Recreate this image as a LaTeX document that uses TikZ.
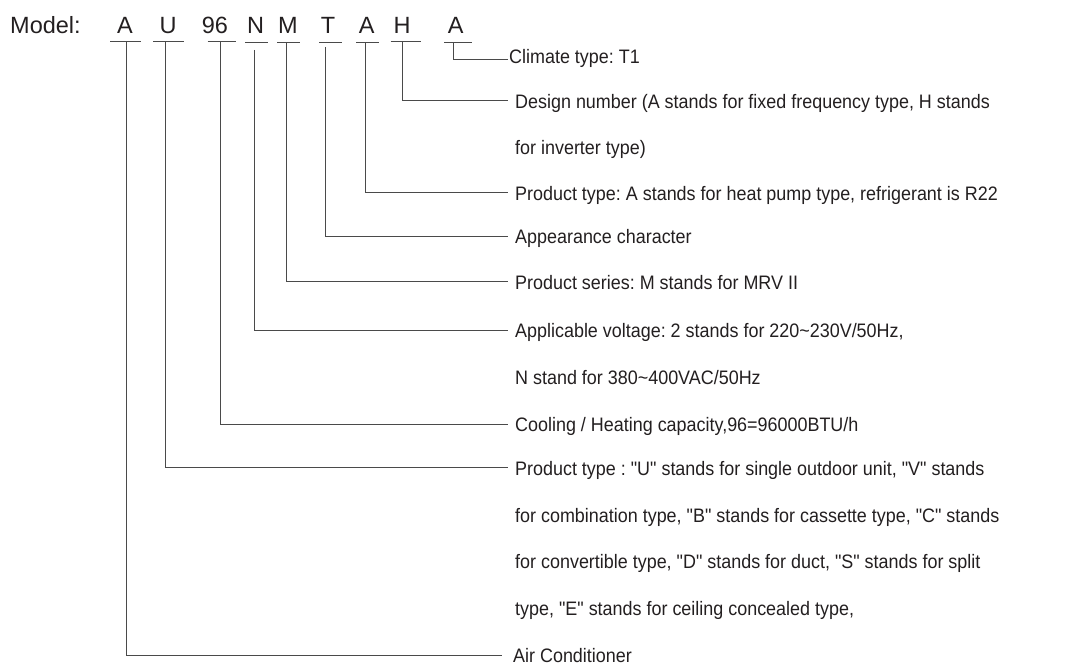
\documentclass[tikz,border=0pt]{standalone}
\usepackage{fontspec}
\setmainfont{Liberation Sans}
\newfontfamily\descfont[FakeStretch=0.92]{Liberation Sans}
\definecolor{txt}{HTML}{231F20}
\definecolor{ln}{HTML}{4A4A4A}
\frenchspacing
\begin{document}
\begin{tikzpicture}[x=1pt,y=-1pt,
  code/.style={font=\fontsize{23.5}{28}\selectfont, text=txt, inner sep=0pt, anchor=base},
  desc/.style={font=\descfont\fontsize{19.5}{23}\selectfont, text=txt, anchor=west, inner ysep=0pt, inner xsep=7pt, text height=18pt, text depth=3pt},
  cont/.style={font=\descfont\fontsize{19.5}{23}\selectfont, text=txt, anchor=base west, inner sep=0pt},
  link/.style={draw=ln, line width=1pt},
]
\useasboundingbox (0,0) rectangle (1082,666);

% code letters
\node[code, anchor=base west] (model) at (10,33.3) {Model:};
\node[code] (lA)  at (125,33.3)   {A};
\node[code] (lU)  at (168,33.3)   {U};
\node[code] (l96) at (215,33.3)   {96};
\node[code] (lN)  at (255.7,33.3) {N};
\node[code] (lM)  at (288,33.3)   {M};
\node[code] (lT)  at (328,33.3)   {T};
\node[code] (lA2) at (366.7,33.3) {A};
\node[code] (lH)  at (402,33.3)   {H};
\node[code] (lA3) at (455.7,33.3) {A};

% underlines
\draw[link] (110,42) -- (140.7,42);
\draw[link] (153.3,42) -- (184,42);
\draw[link] (207.7,42) -- (235.7,42);
\draw[link] (245.3,42.5) -- (267.7,42.5);
\draw[link] (277,42.5) -- (300.3,42.5);
\draw[link] (319,42.5) -- (341.7,42.5);
\draw[link] (356,42.5) -- (379,42.5);
\draw[link] (390.7,42) -- (421.3,42);
\draw[link] (444.3,42.5) -- (472.3,42.5);

% connector starts
\coordinate (sA)  at (126,42);
\coordinate (sU)  at (165.3,42);
\coordinate (s96) at (220.7,42);
\coordinate (sN)  at (254,50);
\coordinate (sM)  at (286.7,42.5);
\coordinate (sT)  at (325.7,47);
\coordinate (sA2) at (365.7,42.5);
\coordinate (sH)  at (402.3,42);
\coordinate (sA3) at (453.3,42.5);

% descriptions
\node[desc, inner xsep=1pt, text height=10pt, text depth=3.4pt] (dClim) at (508,60) {Climate type: T1};
\node[desc] (dDesign) at (508,101) {Design number (A stands for fixed frequency type, H stands};
\node[cont] (cDesign) at (515,154.3) {for inverter type)};
\node[desc] (dProdA) at (508,192.7) {Product type: A stands for heat pump type, refrigerant is R22};
\node[desc] (dApp) at (508,236) {Appearance character};
\node[desc] (dSeries) at (508,281.7) {Product series: M stands for MRV II};
\node[desc] (dVolt) at (508,330) {Applicable voltage: 2 stands for 220\textasciitilde230V/50Hz,};
\node[cont] (cVolt) at (515,384.5) {N stand for 380\textasciitilde400VAC/50Hz};
\node[desc] (dCool) at (508,424) {Cooling / Heating capacity,96=96000BTU/h};
\node[desc] (dProdU) at (508,467.7) {Product type : "U" stands for single outdoor unit, "V" stands};
\node[cont] (cProdU1) at (515,522) {for combination type, "B" stands for cassette type, "C" stands};
\node[cont] (cProdU2) at (515,568.8) {for convertible type, "D" stands for duct, "S" stands for split};
\node[cont] (cProdU3) at (515,615.7) {type, "E" stands for ceiling concealed type,};
\node[desc, inner xsep=11pt] (dAir) at (502,655) {Air Conditioner};

% connectors
\draw[link] (sA3) |- (dClim.west);
\draw[link] (sH)  |- (dDesign.west);
\draw[link] (sA2) |- (dProdA.west);
\draw[link] (sT)  |- (dApp.west);
\draw[link] (sM)  |- (dSeries.west);
\draw[link] (sN)  |- (dVolt.west);
\draw[link] (s96) |- (dCool.west);
\draw[link] (sU)  |- (dProdU.west);
\draw[link] (sA)  |- (dAir.west);
\end{tikzpicture}
\end{document}
